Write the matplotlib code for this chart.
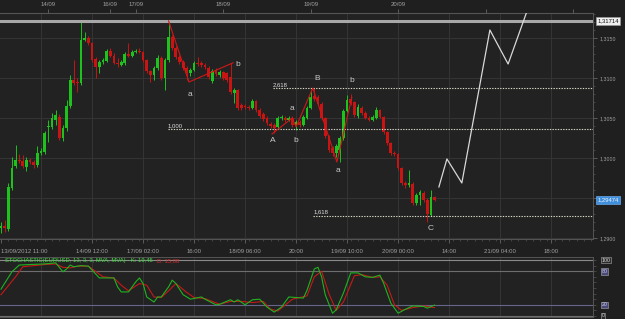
import matplotlib
matplotlib.use("Agg")
import numpy as np
import matplotlib.pyplot as plt
from matplotlib.ticker import MultipleLocator

plt.rcParams['font.family'] = ['Liberation Sans', 'DejaVu Sans']

# hourly EURUSD candles, 13/09 11:00 -> 20/09 ~10:00 (bar index = hour on chart)
opens = [1.2913, 1.2915, 1.2911, 1.2963, 1.2990, 1.2998, 1.2996, 1.2989, 1.2998, 1.2995,
         1.2991, 1.3006, 1.3008, 1.3039, 1.3039, 1.3048, 1.3051, 1.3025, 1.3038, 1.3065,
         1.3098, 1.3095, 1.3094, 1.3148, 1.3150, 1.3144, 1.3124, 1.3114, 1.3120, 1.3121,
         1.3134, 1.3128, 1.3119, 1.3116, 1.3119, 1.3130, 1.3128, 1.3133, 1.3134, 1.3133,
         1.3123, 1.3109, 1.3104, 1.3113, 1.3125, 1.3100, 1.3123, 1.3151, 1.3138, 1.3126,
         1.3120, 1.3113, 1.3106, 1.3110, 1.3119, 1.3119, 1.3116, 1.3113, 1.3096, 1.3109,
         1.3104, 1.3108, 1.3106, 1.3101, 1.3081, 1.3085, 1.3066, 1.3065, 1.3064, 1.3063,
         1.3071, 1.3060, 1.3055, 1.3050, 1.3043, 1.3041, 1.3039, 1.3050, 1.3050, 1.3048,
         1.3050, 1.3041, 1.3045, 1.3041, 1.3050, 1.3063, 1.3078, 1.3076, 1.3068, 1.3050,
         1.3028, 1.3013, 1.3006, 1.3010, 1.3025, 1.3059, 1.3074, 1.3070, 1.3053, 1.3063,
         1.3056, 1.3050, 1.3048, 1.3050, 1.3060, 1.3051, 1.3033, 1.3019, 1.3006, 1.3005,
         1.2988, 1.2969, 1.2966, 1.2968, 1.2944, 1.2954, 1.2956, 1.2948, 1.2929, 1.2951]
highs = [1.2920, 1.2923, 1.2969, 1.3001, 1.3016, 1.3005, 1.3004, 1.3001, 1.3000, 1.2998,
         1.3015, 1.3013, 1.3034, 1.3048, 1.3056, 1.3060, 1.3055, 1.3041, 1.3073, 1.3104,
         1.3123, 1.3100, 1.3171, 1.3158, 1.3153, 1.3145, 1.3126, 1.3123, 1.3125, 1.3136,
         1.3138, 1.3131, 1.3125, 1.3123, 1.3133, 1.3144, 1.3135, 1.3136, 1.3138, 1.3134,
         1.3124, 1.3110, 1.3115, 1.3129, 1.3128, 1.3125, 1.31714, 1.3154, 1.3140, 1.3129,
         1.3123, 1.3115, 1.3113, 1.3121, 1.3126, 1.3121, 1.3119, 1.3115, 1.3111, 1.3113,
         1.3110, 1.3109, 1.3108, 1.3119, 1.3088, 1.3086, 1.3069, 1.3068, 1.3066, 1.3074,
         1.3073, 1.3063, 1.3058, 1.3053, 1.3045, 1.3044, 1.3053, 1.3054, 1.3053, 1.3053,
         1.3053, 1.3048, 1.3048, 1.3054, 1.3065, 1.3085, 1.3088, 1.3079, 1.3070, 1.3051,
         1.3029, 1.3015, 1.3018, 1.3028, 1.3061, 1.3079, 1.3080, 1.3071, 1.3068, 1.3065,
         1.3059, 1.3053, 1.3054, 1.3064, 1.3061, 1.3053, 1.3034, 1.3020, 1.3009, 1.3006,
         1.2989, 1.2971, 1.2985, 1.2970, 1.2956, 1.2960, 1.2959, 1.2950, 1.2960, 1.2953]
lows = [1.2906, 1.2908, 1.2909, 1.2960, 1.2988, 1.2994, 1.2988, 1.2984, 1.2993, 1.2988,
        1.2989, 1.3004, 1.3005, 1.3020, 1.3036, 1.3041, 1.3023, 1.3021, 1.3034, 1.3063,
        1.3091, 1.3083, 1.3091, 1.3146, 1.3141, 1.3120, 1.3100, 1.3106, 1.3118, 1.3120,
        1.3126, 1.3118, 1.3114, 1.3115, 1.3116, 1.3126, 1.3126, 1.3131, 1.3131, 1.3120,
        1.3106, 1.3095, 1.3098, 1.3110, 1.3098, 1.3085, 1.3120, 1.3135, 1.3124, 1.3118,
        1.3110, 1.3098, 1.3103, 1.3109, 1.3115, 1.3114, 1.3111, 1.3099, 1.3094, 1.3103,
        1.3101, 1.3098, 1.3095, 1.3080, 1.3069, 1.3060, 1.3060, 1.3061, 1.3060, 1.3061,
        1.3058, 1.3050, 1.3046, 1.3041, 1.3038, 1.3031, 1.3036, 1.3048, 1.3045, 1.3046,
        1.3039, 1.3035, 1.3039, 1.3040, 1.3049, 1.3061, 1.3071, 1.3065, 1.3048, 1.3025,
        1.3008, 1.3003, 1.3001, 1.2995, 1.3023, 1.3058, 1.3066, 1.3051, 1.3050, 1.3054,
        1.3049, 1.3046, 1.3046, 1.3049, 1.3050, 1.3030, 1.3016, 1.3004, 1.3003, 1.2985,
        1.2966, 1.2963, 1.2964, 1.2941, 1.2941, 1.2941, 1.2945, 1.2920, 1.2928, 1.2946]
closes = [1.2915, 1.2913, 1.2964, 1.2988, 1.2998, 1.2996, 1.2990, 1.2998, 1.2995, 1.2991,
          1.3006, 1.3009, 1.3031, 1.3040, 1.3050, 1.3054, 1.3025, 1.3038, 1.3065, 1.3098,
          1.3094, 1.3094, 1.3148, 1.3150, 1.3144, 1.3123, 1.3114, 1.3120, 1.3123, 1.3134,
          1.3128, 1.3119, 1.3118, 1.3120, 1.3130, 1.3128, 1.3133, 1.3134, 1.3133, 1.3123,
          1.3109, 1.3104, 1.3113, 1.3125, 1.3100, 1.3123, 1.3151, 1.3138, 1.3126, 1.3120,
          1.3113, 1.3106, 1.3110, 1.3119, 1.3118, 1.3116, 1.3114, 1.3101, 1.3109, 1.3105,
          1.3108, 1.3100, 1.3098, 1.3083, 1.3085, 1.3063, 1.3063, 1.3064, 1.3063, 1.3071,
          1.3060, 1.3053, 1.3049, 1.3044, 1.3040, 1.3038, 1.3050, 1.3051, 1.3048, 1.3050,
          1.3041, 1.3045, 1.3041, 1.3051, 1.3063, 1.3076, 1.3074, 1.3068, 1.3050, 1.3028,
          1.3010, 1.3006, 1.3015, 1.3025, 1.3059, 1.3073, 1.3069, 1.3054, 1.3064, 1.3056,
          1.3050, 1.3048, 1.3051, 1.3060, 1.3051, 1.3033, 1.3019, 1.3006, 1.3005, 1.2988,
          1.2969, 1.2966, 1.2969, 1.2944, 1.2954, 1.2958, 1.2948, 1.2930, 1.2951, 1.29474]

# stochastic %K / %D
k_bars = [0, 3, 5, 8, 12, 15, 17, 18, 19, 20, 22, 24, 27, 31, 32, 33, 35, 37, 38, 39,
          40, 42, 43, 44, 46, 47, 48, 50, 52, 55, 56, 59, 60, 63, 64, 65, 67, 69, 71, 73,
          75, 77, 79, 83, 84, 86, 87, 88, 89, 91, 92, 94, 96, 98, 100, 102, 104, 105, 107, 109,
          111, 113, 116, 117, 119]
k_vals = [48, 79, 91, 92, 93, 95, 79, 84, 91, 88, 90, 89, 68, 68, 52, 43, 43, 61, 68, 58,
          34, 25, 34, 34, 52, 64, 58, 38, 30, 34, 30, 20, 21, 29, 25, 29, 20, 29, 30, 16,
          7, 16, 34, 32, 46, 84, 87, 70, 38, 5, 11, 41, 77, 77, 70, 69, 73, 59, 23, 5,
          12, 18, 17, 14, 19.45]
d_bars = [0, 4, 6, 12, 15, 17, 19, 21, 24, 28, 31, 33, 35, 38, 40, 42, 44, 46, 48, 51,
          53, 56, 60, 63, 66, 69, 72, 74, 76, 80, 84, 86, 88, 90, 92, 94, 97, 99, 102, 104,
          106, 108, 110, 113, 116, 119]
d_vals = [38, 70, 88, 92, 93, 87, 86, 89, 89, 70, 68, 55, 45, 58, 55, 34, 33, 45, 58, 42,
          33, 31, 21, 26, 26, 24, 26, 12, 9, 30, 36, 70, 80, 40, 10, 25, 72, 74, 69, 70,
          55, 20, 10, 15, 18, 15.08]

# axis labels
time_bars = [0, 25, 39, 53, 67, 81, 95, 109, 123, 137, 151]
time_labels = ['13/09/2012 11:00', '14/09 12:00', '17/09 02:00', '16:00', '18/09 06:00',
               '20:00', '19/09 10:00', '20/09 00:00', '14:00', '21/09 04:00', '18:00']
grid_bars = [11, 25, 39, 53, 67, 81, 95, 109, 123, 137, 151]
day_bars = [13, 30, 37, 61, 85, 109, 133, 157]
day_labels = ['14/09', '16/09', '17/09', '18/09', '19/09', '20/09', '', '']
price_ticks = [1.2900, 1.2950, 1.3000, 1.3050, 1.3100, 1.3150]
price_labels = ['1,2900', '', '1,3000', '1,3050', '1,3100', '1,3150']

# Elliott wave annotation
wave1_bars = [46, 51.6, 63.7]
wave1_prices = [1.31714, 1.3095, 1.3119]
wave2_bars = [74.4, 79.9, 81.0, 85.6, 92.2, 96.3]
wave2_prices = [1.3030, 1.3050, 1.3039, 1.30875, 1.2995, 1.3076]
proj_bars = [120.2, 122.4, 126.5, 134.2, 139.2, 144.5]
proj_prices = [1.29638, 1.29988, 1.29688, 1.3160, 1.31175, 1.3185]
fib_levels = [1.30875, 1.30363, 1.29281]
fib_start = [74.7, 45.8, 85.7]
fib_names = ['2,618', '1,000', '1,618']
wave_text = ['a', 'b', 'B', 'b', 'a', 'A', 'b', 'a', 'C']
wave_text_bars = [51.9, 65.1, 86.7, 96.3, 79.9, 74.7, 81.0, 92.5, 117.8]
wave_text_prices = [1.30788, 1.31175, 1.3100, 1.30975, 1.30613, 1.30213, 1.30225, 1.2985, 1.29125]

BG = '#1f1f1f'
PANEL = '#222222'
GRID = '#353535'
TXT = '#a0a0a0'
UP = '#1dc21d'
DOWN = '#c91414'

fig = plt.figure(figsize=(6.25, 3.19), dpi=100, facecolor=BG)
ax = fig.add_axes([0, 80 / 319, 593 / 625, 226 / 319], facecolor=PANEL)
ax2 = fig.add_axes([0, 2 / 319, 593 / 625, 60 / 319], facecolor=PANEL, sharex=ax)

o = np.array(opens)
c = np.array(closes)
h = np.array(highs)
l = np.array(lows)
x = np.arange(len(c))
up = c >= o

# grid
for gb in grid_bars:
    ax.axvline(gb, color=GRID, lw=0.7, zorder=0)
    ax2.axvline(gb, color=GRID, lw=0.7, zorder=0)
for pt in price_ticks:
    ax.axhline(pt, color=GRID, lw=0.7, zorder=0)

# candles
body_h = np.maximum(np.abs(c - o), 0.00008)
body_b = np.minimum(o, c)
for mask, col in ((up, UP), (~up, DOWN)):
    ax.vlines(x[mask], l[mask], h[mask], color=col, lw=0.7, zorder=2)
    ax.bar(x[mask], body_h[mask], bottom=body_b[mask], width=0.75, color=col,
           linewidth=0, zorder=3)

# high line
ax.axhline(1.31714, color='#a8a8a8', lw=2.2, zorder=4)

# fib levels
for lev, st, nm in zip(fib_levels, fib_start, fib_names):
    ax.hlines(lev, st, 162.5, colors='#d8d8c8', linestyles=(0, (1.2, 1.2)), lw=0.8, zorder=4)
    ax.text(st, lev + 0.00012, nm, fontsize=4.3, color='#dddddd', va='bottom', ha='left')

# wave lines + labels
ax.plot(wave1_bars, wave1_prices, color='#d01818', lw=0.8, zorder=5)
ax.plot(wave2_bars, wave2_prices, color='#d01818', lw=0.8, zorder=5)
ax.plot(proj_bars, proj_prices, color='#d8d8d8', lw=0.9, zorder=5)
for t, bx, py in zip(wave_text, wave_text_bars, wave_text_prices):
    ax.text(bx, py, t, fontsize=6, color='#c8c8c8', ha='center', va='center')

ax.set_xlim(-0.27, 162.5)
ax.set_ylim(1.289875, 1.318125)

# bottom time axis
ax.set_xticks(time_bars, time_labels)
ax.xaxis.set_minor_locator(MultipleLocator(2))
ax.tick_params(axis='x', which='major', colors='#666666', labelcolor=TXT, labelsize=4.3,
               length=3, width=0.6, pad=4)
ax.tick_params(axis='x', which='minor', colors='#555555', length=1.5, width=0.5)
ax.get_xticklabels()[0].set_ha('left')

# top date axis
sec = ax.secondary_xaxis('top')
sec.set_xticks(day_bars, day_labels)
sec.tick_params(colors='#666666', labelcolor=TXT, labelsize=4.3, length=3, width=0.6, pad=1)
sec.spines['top'].set_color('#555555')

# right price axis
ax.yaxis.tick_right()
ax.set_yticks(price_ticks, price_labels)
ax.yaxis.set_minor_locator(MultipleLocator(0.001))
ax.tick_params(axis='y', which='major', colors='#666666', labelcolor=TXT, labelsize=3.8,
               length=3, width=0.6, pad=2)
ax.tick_params(axis='y', which='minor', colors='#555555', length=1.5, width=0.5)
for sp in ax.spines.values():
    sp.set_color('#555555')
    sp.set_linewidth(0.7)
ax.spines['left'].set_visible(False)

ax.annotate('1,31714', xy=(1, 1.31714), xycoords=('axes fraction', 'data'), xytext=(3, 0),
            textcoords='offset points', va='center', ha='left', fontsize=4.2, color='#111111',
            annotation_clip=False,
            bbox=dict(boxstyle='square,pad=0.2', fc='#f0f0f0', ec='#999999', lw=0.5))
ax.annotate('1,29474', xy=(1, 1.29474), xycoords=('axes fraction', 'data'), xytext=(3, 0),
            textcoords='offset points', va='center', ha='left', fontsize=4.2, color='#eef4ff',
            annotation_clip=False,
            bbox=dict(boxstyle='square,pad=0.2', fc='#3f8fdc', ec='#6aa8e8', lw=0.5))

# stochastic panel
ax2.set_ylim(-1.8, 105.4)
ax2.axhline(100, color='#8a8a8a', lw=0.8, zorder=1)
ax2.axhline(80, color='#6e6e6e', lw=0.8, zorder=1)
ax2.axhline(20, color='#66668a', lw=0.8, zorder=1)
ax2.axhline(0, color='#6e6e6e', lw=0.8, zorder=1)
ax2.plot(d_bars, d_vals, color='#c81818', lw=0.8, zorder=3)
ax2.plot(k_bars, k_vals, color='#1fb31f', lw=0.8, zorder=4)

t1 = ax2.text(1, 99, 'STOCHASTIC(EURUSD, 13, 3, 3, MVA, MVA) - K: 19,45', fontsize=4.2,
              color='#3ee03e', va='center', ha='left', zorder=6)
ax2.annotate('D: 15,08', xy=(1, 0), xycoords=t1, xytext=(3, 0), textcoords='offset points',
             fontsize=4.2, color='#e02a2a', va='bottom', ha='left', zorder=6)

ax2.yaxis.tick_right()
ax2.set_yticks([0, 20, 80, 100], ['', '', '', ''])
ax2.yaxis.set_minor_locator(MultipleLocator(10))
ax2.tick_params(axis='y', which='both', colors='#555555', length=2, width=0.5)
ax2.tick_params(axis='x', which='both', length=0, labelbottom=False)
for sp in ax2.spines.values():
    sp.set_color('#555555')
    sp.set_linewidth(0.7)
ax2.spines['left'].set_visible(False)

stoch_boxes = [(100, '100', '#2a2a2a', '#dddddd'), (80, '80', '#4a4a78', '#cfcfef'),
               (20, '20', '#4a4a78', '#cfcfef'), (0, '0', '#2a2a2a', '#cccccc')]
for lev, txt, fc, tc in stoch_boxes:
    ax2.annotate(txt, xy=(1, lev), xycoords=('axes fraction', 'data'), xytext=(6, 0),
                 textcoords='offset points', va='center', ha='left', fontsize=3.8, color=tc,
                 annotation_clip=False,
                 bbox=dict(boxstyle='square,pad=0.15', fc=fc, ec='#aaaaaa', lw=0.4))

fig.savefig('out.png', dpi=100, facecolor=BG)
